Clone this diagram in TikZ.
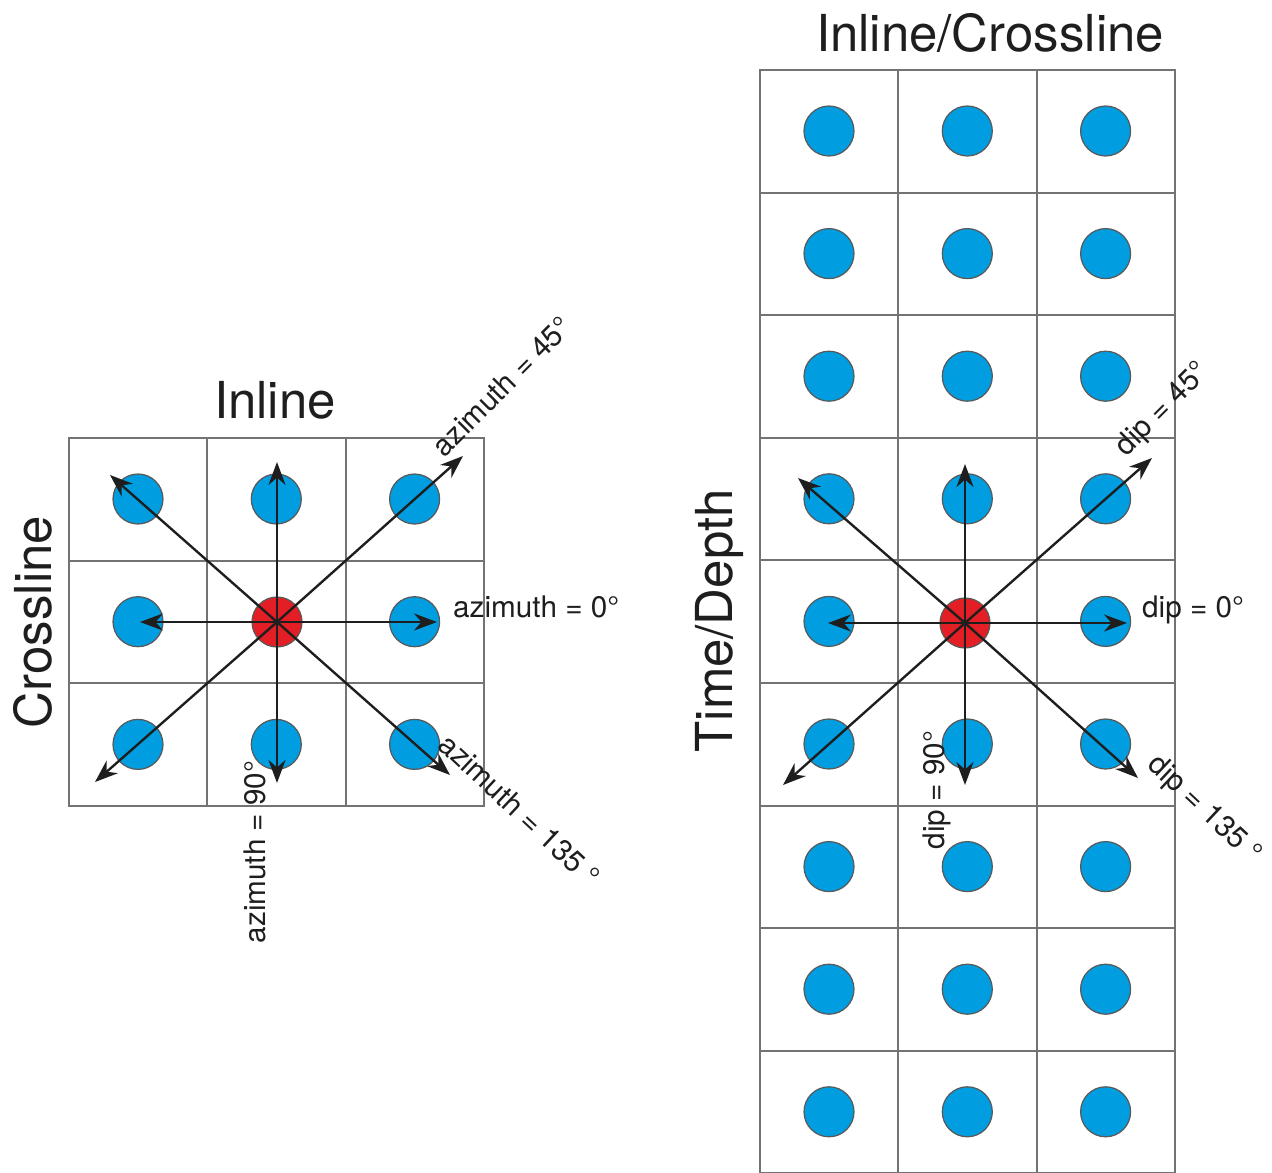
\documentclass[tikz,border=0pt]{standalone}
\usepackage{fontspec}
\setmainfont{TeX Gyre Heros}
\usepackage{xcolor}
\usepackage{tikz}
\usetikzlibrary{arrows.meta}

\definecolor{dotblue}{RGB}{0,158,224}
\definecolor{dotred}{RGB}{227,30,36}
\definecolor{gridgray}{RGB}{115,115,115}
\definecolor{inkgray}{RGB}{30,30,30}

\begin{document}
\begin{tikzpicture}[
  x=0.02cm, y=-0.02cm,
  every node/.style={text=inkgray},
  cellbox/.style={draw=gridgray, line width=1.1pt},
  dot/.style={circle, draw=black!65, line width=0.7pt, fill=dotblue,
              minimum size=1cm, inner sep=0pt},
  seed/.style={dot, fill=dotred},
  ray/.style={draw=inkgray, line width=1.35pt,
              -{Stealth[length=0.46cm, width=0.34cm]}},
  heading/.style={font=\fontsize{29}{31}\selectfont},
  tag/.style={font=\fontsize{16.9}{19}\selectfont},
]

%% ── Frame ──────────────────────────────────────────────────────────────────
\useasboundingbox (0,0) rectangle (1272,1173);

%% ── Left panel: 3x3 grid ────────────────────────────────────────────────────
\foreach \i in {0,1,2} {
  \foreach \j in {0,1,2} {
    \draw[cellbox] ({69+138.3*\i},{438+122.7*\j}) rectangle +(138.3,122.7);
  }
}
\foreach \i/\j in {0/0,1/0,2/0,0/1,2/1,0/2,1/2,2/2} {
  \node[dot] (L-\i-\j) at ({138+138.3*\i},{499+122.7*\j}) {};
}
\node[seed] (Lc) at (277,622) {};

%% Arrow tips (left)
\coordinate (LtipN)  at (277,462);
\coordinate (LtipS)  at (277,783);
\coordinate (LtipW)  at (140,622);
\coordinate (LtipE)  at (437,622);
\coordinate (LtipNE) at (463,456);
\coordinate (LtipNW) at (110,475);
\coordinate (LtipSW) at (95,782);
\coordinate (LtipSE) at (450,775);

\foreach \d in {N,S,W,E,NE,NW,SW,SE} {
  \draw[ray] (Lc.center) -- (Ltip\d);
}

%% Labels (left)
\node[heading] (inlineT) at (275,400) {Inline};
\node[heading, rotate=90] (crossT) at (33,622) {Crossline};
\node[tag, anchor=base west] (az0) at (447,617) {azimuth = 0°};
\node[tag, rotate=45] (az45) at (502,386) {azimuth = 45°};
\node[tag, rotate=90] (az90) at (255,852) {azimuth = 90°};
\node[tag, rotate=-43] (az135) at (520,810) {azimuth = 135 °};

%% ── Right panel: 3x9 grid ───────────────────────────────────────────────────
\foreach \i in {0,1,2} {
  \foreach \j in {0,...,8} {
    \draw[cellbox] ({760+138.3*\i},{70+122.6*\j}) rectangle +(138.3,122.6);
  }
}
\foreach \i in {0,1,2} {
  \foreach \j in {0,...,8} {
    \ifnum\i=1 \ifnum\j=4 \else
      \node[dot] (R-\i-\j) at ({829+138.3*\i},{131+122.6*\j}) {};
    \fi \else
      \node[dot] (R-\i-\j) at ({829+138.3*\i},{131+122.6*\j}) {};
    \fi
  }
}
\node[seed] (Rc) at (965,623) {};

%% Arrow tips (right)
\coordinate (RtipN)  at (965,464);
\coordinate (RtipS)  at (965,785);
\coordinate (RtipW)  at (828,623);
\coordinate (RtipE)  at (1127,623);
\coordinate (RtipNE) at (1152,458);
\coordinate (RtipNW) at (798,478);
\coordinate (RtipSW) at (783,785);
\coordinate (RtipSE) at (1138,778);

\foreach \d in {N,S,W,E,NE,NW,SW,SE} {
  \draw[ray] (Rc.center) -- (Rtip\d);
}

%% Labels (right)
\node[heading] (icT) at (990,33) {Inline/Crossline};
\node[heading, rotate=90] (tdT) at (719,621) {Time/Depth};
\node[tag, anchor=base west] (dip0) at (1136,617) {dip = 0°};
\node[tag, rotate=45] (dip45) at (1163,410) {dip = 45°};
\node[tag, rotate=90] (dip90) at (937,790) {dip = 90°};
\node[tag, rotate=-43] (dip135) at (1204,810) {dip = 135 °};

\end{tikzpicture}
\end{document}
